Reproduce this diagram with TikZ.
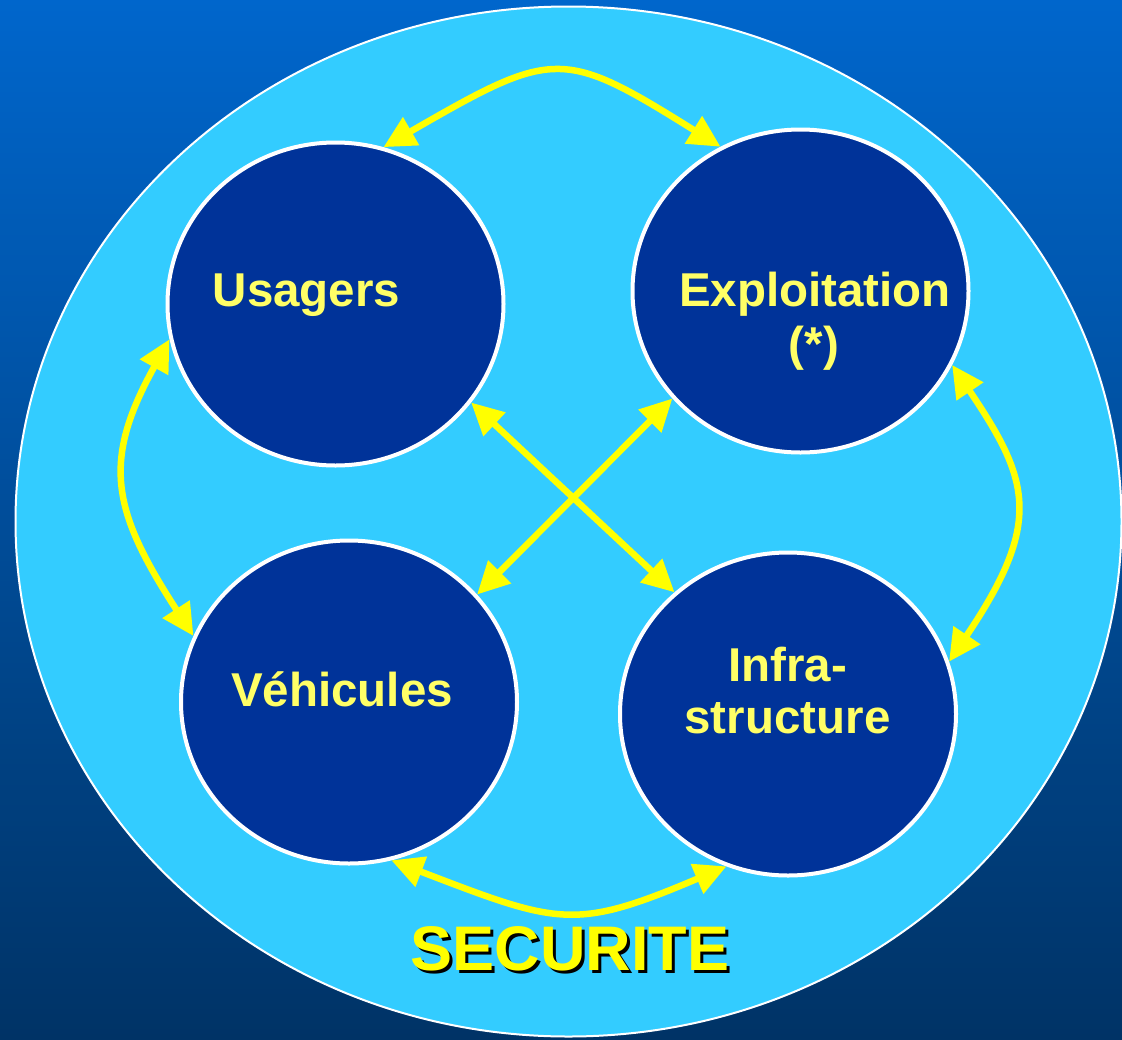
\documentclass[tikz,border=0pt]{standalone}
\usepackage{fontspec}
\setmainfont{Liberation Sans}
\usetikzlibrary{shapes.geometric,arrows.meta}
\definecolor{bgtop}{RGB}{0,102,204}
\definecolor{bgbot}{RGB}{0,51,102}
\definecolor{sky}{RGB}{51,204,255}
\definecolor{disk}{RGB}{0,51,153}
\definecolor{lbl}{RGB}{255,255,102}
\definecolor{arr}{RGB}{255,255,0}
\begin{document}
\begin{tikzpicture}[x=1pt,y=-1pt,
  disc/.style={ellipse, draw=white, line width=4pt, fill=disk,
    minimum width=336pt, minimum height=323pt, inner sep=0pt, outer sep=2pt},
  lab/.style={text=lbl, font=\fontsize{47.5}{54}\selectfont\bfseries,
    anchor=base, inner sep=0pt},
  link/.style={draw=arr, line width=6.5pt,
    {Triangle[length=32pt,width=31pt]}-{Triangle[length=32pt,width=31pt]}},
  bigtitle/.style={font=\fontsize{63}{70}\selectfont\bfseries, anchor=base, inner sep=0pt}
]
\shade[top color=bgtop, bottom color=bgbot] (0,0) rectangle (1122,1039);
\useasboundingbox (0,0) rectangle (1122,1039);
\node[ellipse, draw=white, line width=2pt, fill=sky, minimum width=1106pt,
  minimum height=1030pt, inner sep=0pt] (secu) at (568.5,521.5) {};

\node[disc] (u) at (335.5,304) {};
\node[disc] (e) at (800.5,291) {};
\node[disc] (v) at (349,702) {};
\node[disc] (i) at (788,714) {};

% connectors
\draw[link] (u.73.8) to[out=30, in=148, out looseness=1.5, in looseness=1.42] (e.119);
\draw[link] (u.192) to[out=241, in=123, out looseness=1.2, in looseness=1.3] (v.157.8);
\draw[link] (e.-26.5) to[out=-56, in=56, out looseness=1.2, in looseness=1.45] (i.18.6);
\draw[link] (v.285.4) to[out=-21, in=203, out looseness=1.37, in looseness=1.26] (i.248.7);
\draw[link] (u.-36.8) -- (i.133.8);
\draw[link] (e.220.9) -- (v.40.35);

% labels
\node[lab] (tu) at (306.5,306) {Usagers};
\node[lab] (te1) at (815,306) {Exploitation};
\node[lab] (te2) at (814,360) {(*)};
\node[lab] (tv) at (342,706) {Véhicules};
\node[lab] (ti1) at (787.5,681) {Infra-};
\node[lab] (ti2) at (787.5,733) {structure};

\node[bigtitle, text=black] (ttshadow) at (573,973) {SECURITE};
\node[bigtitle, text=arr] (tt) at (570,970) {SECURITE};
\end{tikzpicture}
\end{document}
